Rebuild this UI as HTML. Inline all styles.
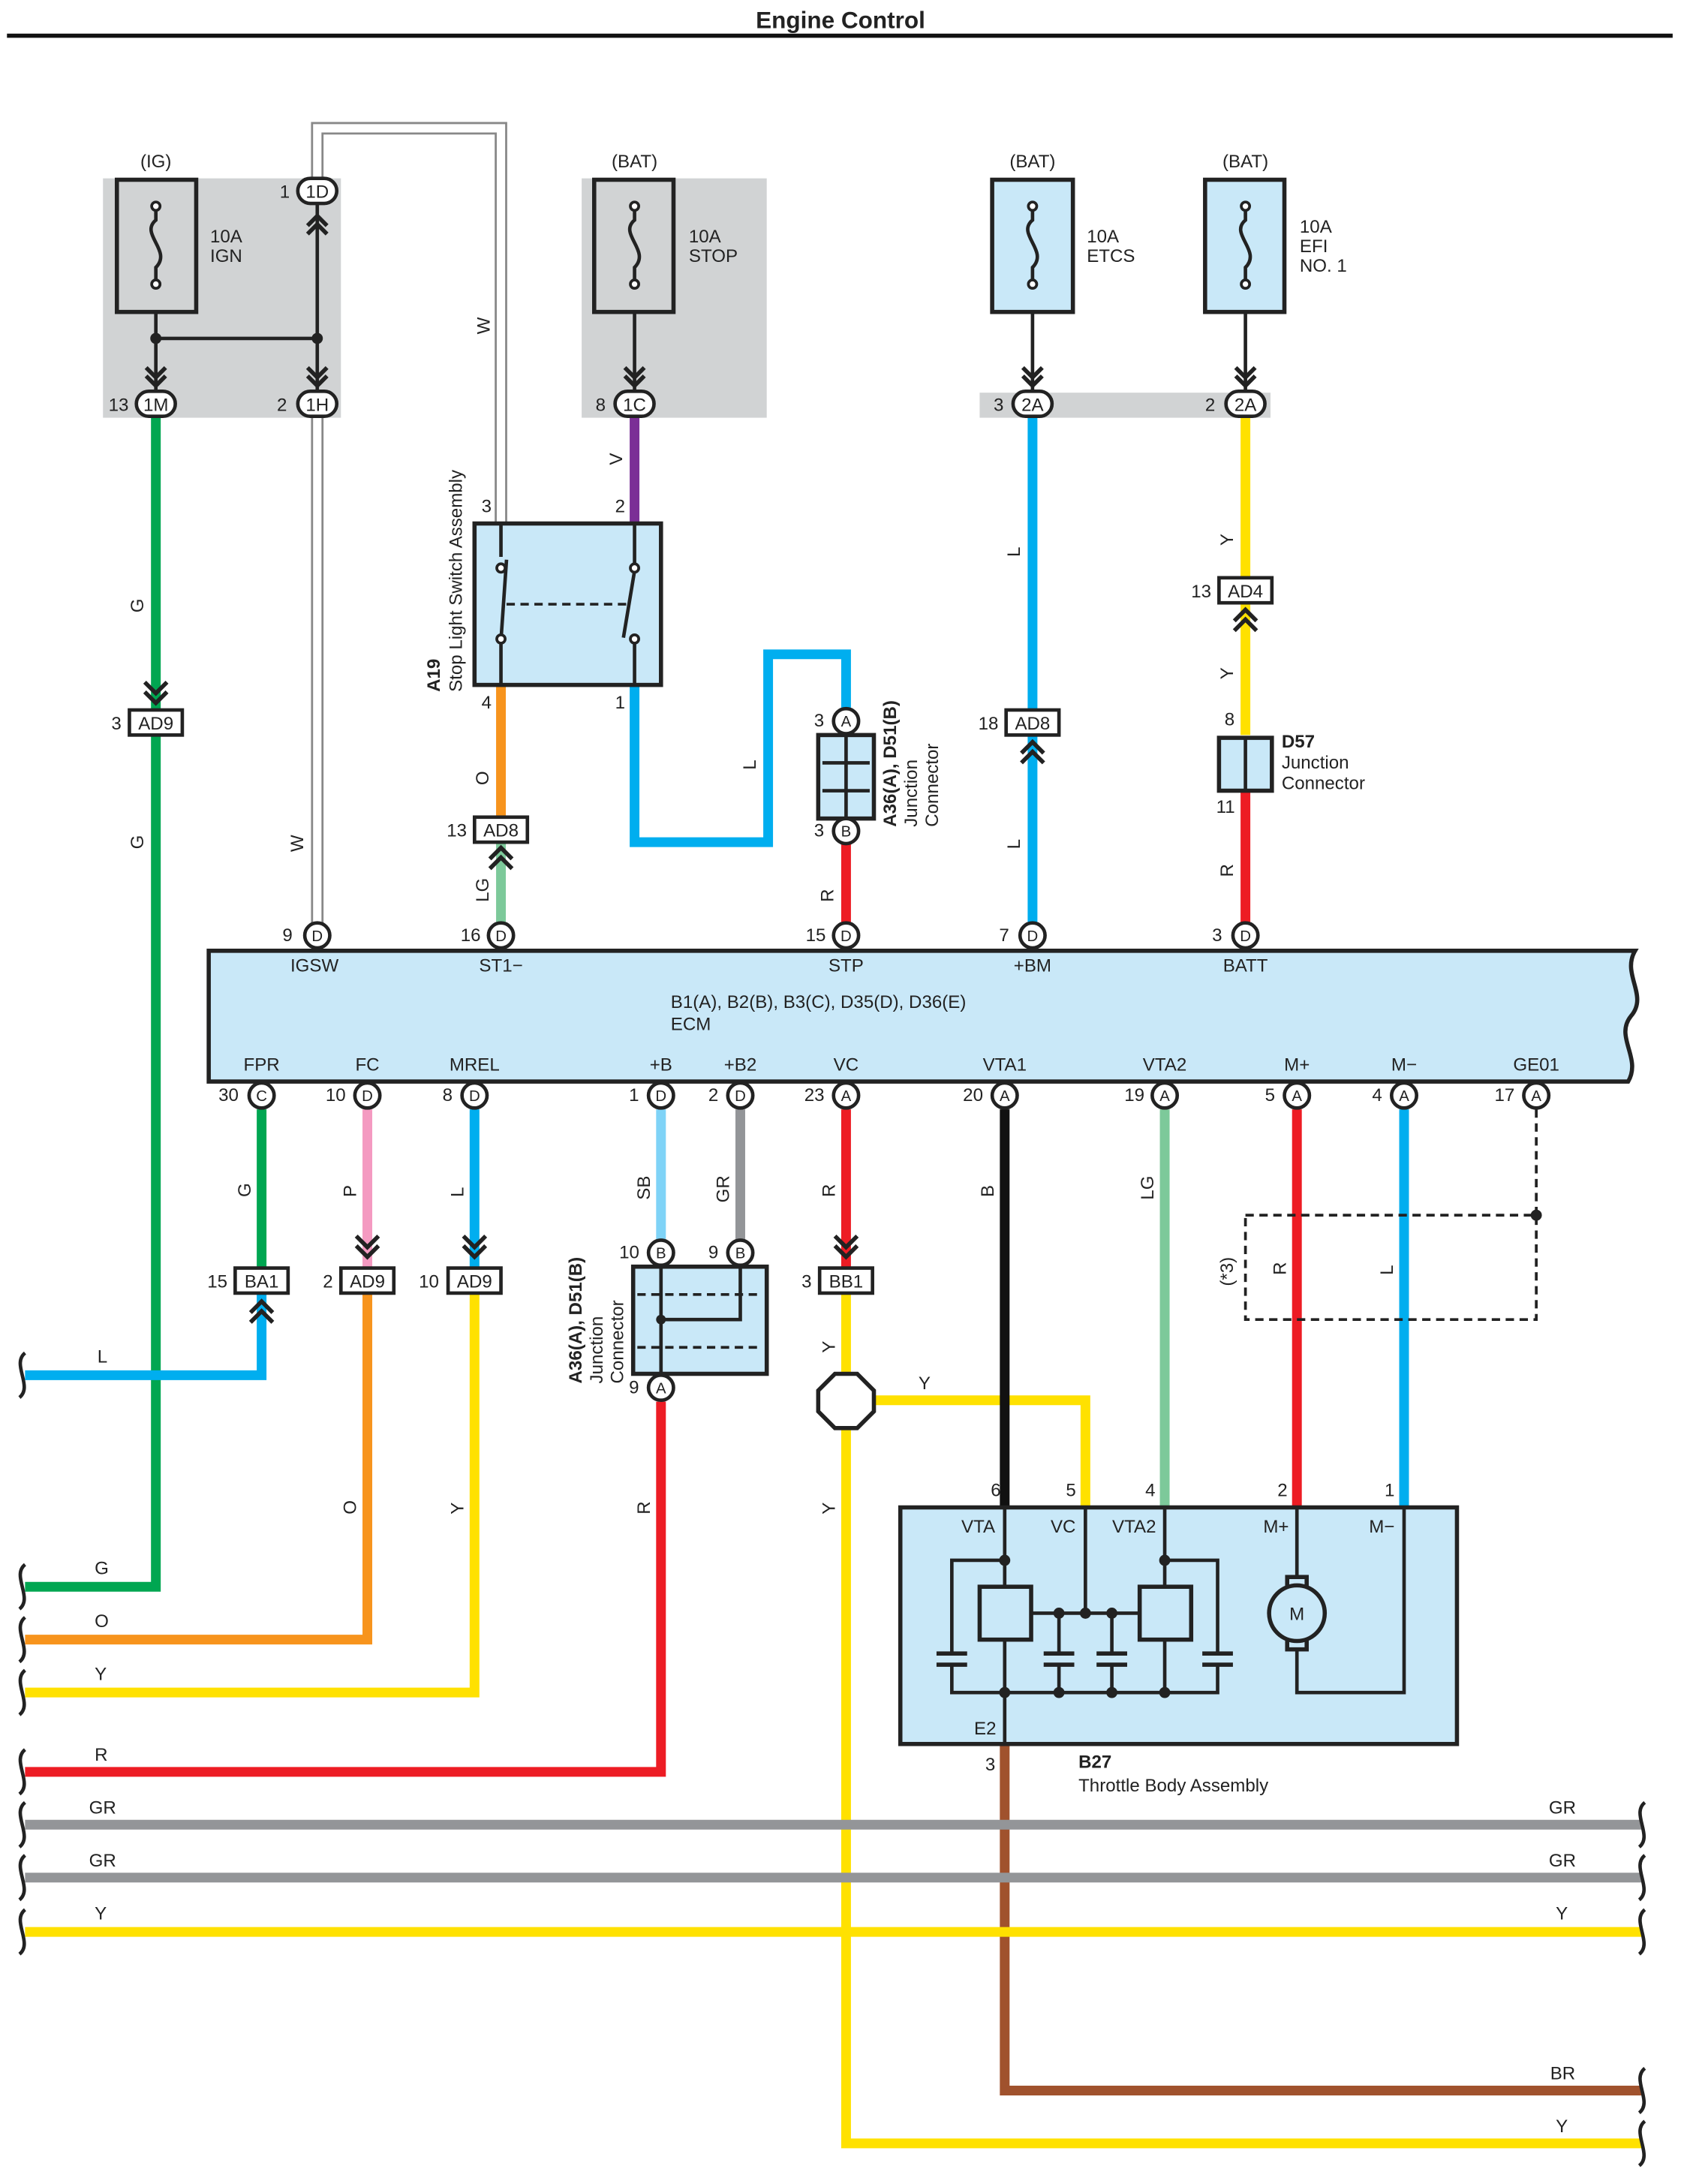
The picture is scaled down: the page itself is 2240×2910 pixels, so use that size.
<!DOCTYPE html>
<html><head><meta charset="utf-8"><style>
html,body{margin:0;padding:0;background:#fff}
svg{display:block}
text{font-family:"Liberation Sans",Arial,sans-serif;font-size:13px;fill:#222}
.w{fill:none;stroke-width:7}
.c{fill:#fff;stroke:#222;stroke-width:2.5}
.k{fill:none;stroke:#222;stroke-width:2.5}
.ch{fill:none;stroke:#222;stroke-width:3}
</style></head><body>
<svg width="2240" height="2910" viewBox="0 0 1208 1569" xmlns="http://www.w3.org/2000/svg">
<text x="604" y="20" text-anchor="middle" style="font-weight:bold;font-size:17px">Engine Control</text>
<rect x="5" y="24" width="1197" height="3" fill="#111"/>

<!-- gray boxes -->
<rect x="74" y="128" width="171" height="172" fill="#d1d3d4"/>
<rect x="418" y="128" width="133" height="172" fill="#d1d3d4"/>
<rect x="704" y="282" width="209" height="18" fill="#d1d3d4"/>

<text x="112" y="120" text-anchor="middle">(IG)</text>
<text x="456" y="120" text-anchor="middle">(BAT)</text>
<text x="742" y="120" text-anchor="middle">(BAT)</text>
<text x="895" y="120" text-anchor="middle">(BAT)</text>

<!-- fuses -->
<g stroke="#222" stroke-width="3">
<rect x="84" y="129" width="57" height="95" fill="#d1d3d4"/>
<rect x="427" y="129" width="57" height="95" fill="#d1d3d4"/>
<rect x="713" y="129" width="58" height="95" fill="#c9e8f8"/>
<rect x="866" y="129" width="57" height="95" fill="#c9e8f8"/>
</g>
<g class="k">
<path d="M112 150 V158 C100 168 124 180 112 192 V202"/>
<path d="M456 150 V158 C444 168 468 180 456 192 V202"/>
<path d="M742 150 V158 C730 168 754 180 742 192 V202"/>
<path d="M895 150 V158 C883 168 907 180 895 192 V202"/>
</g>
<g fill="#fff" stroke="#222" stroke-width="2">
<circle cx="112" cy="148" r="3"/><circle cx="112" cy="204" r="3"/>
<circle cx="456" cy="148" r="3"/><circle cx="456" cy="204" r="3"/>
<circle cx="742" cy="148" r="3"/><circle cx="742" cy="204" r="3"/>
<circle cx="895" cy="148" r="3"/><circle cx="895" cy="204" r="3"/>
</g>
<text x="151" y="174">10A</text><text x="151" y="188">IGN</text>
<text x="495" y="174">10A</text><text x="495" y="188">STOP</text>
<text x="781" y="174">10A</text><text x="781" y="188">ETCS</text>
<text x="934" y="167">10A</text><text x="934" y="181">EFI</text><text x="934" y="195">NO. 1</text>

<!-- IG internal -->
<path class="k" d="M112 224 V282 M112 243 H228 M228 146 V282 M456 224 V282 M742 224 V282 M895 224 V282"/>
<circle cx="112" cy="243" r="4" fill="#222"/><circle cx="228" cy="243" r="4" fill="#222"/>

<!-- white W wire -->
<path d="M228 128 V92 H360 V376 M228 300 V664" fill="none" stroke="#888" stroke-width="9"/>
<path d="M228 128 V92 H360 V376 M228 300 V664" fill="none" stroke="#fff" stroke-width="6"/>

<!-- colored wires top -->
<path class="w" stroke="#00a651" d="M112 300 V1140 H18"/>
<path class="w" stroke="#7b2f96" d="M456 300 V376"/>
<path class="w" stroke="#f7941d" d="M360 492 V588"/>
<path class="w" stroke="#7dc99a" d="M360 605 V664"/>
<path class="w" stroke="#00aeef" d="M456 492 V605 H552 V470 H608 V510"/>
<path class="w" stroke="#ed1c24" d="M608 605 V664"/>
<path class="w" stroke="#00aeef" d="M742 300 V664"/>
<path class="w" stroke="#ffe100" d="M895 300 V528"/>
<path class="w" stroke="#ed1c24" d="M895 568 V664"/>

<!-- pills -->
<g class="c">
<rect x="98" y="281" width="28" height="18" rx="9"/>
<rect x="214" y="281" width="28" height="18" rx="9"/>
<rect x="214" y="128" width="28" height="18" rx="9"/>
<rect x="442" y="281" width="28" height="18" rx="9"/>
<rect x="728" y="281" width="28" height="18" rx="9"/>
<rect x="881" y="281" width="28" height="18" rx="9"/>
</g>
<g text-anchor="middle">
<text x="112" y="295">1M</text><text x="228" y="295">1H</text><text x="228" y="142">1D</text>
<text x="456" y="295">1C</text><text x="742" y="295">2A</text><text x="895" y="295">2A</text>
</g>
<text x="78" y="295">13</text><text x="199" y="295">2</text><text x="201" y="142">1</text>
<text x="428" y="295">8</text><text x="714" y="295">3</text><text x="866" y="295">2</text>

<!-- chevrons top -->
<g class="ch">
<path d="M105 264 L112 271 L119 264 M105 270 L112 277 L119 270"/>
<path d="M221 264 L228 271 L235 264 M221 270 L228 277 L235 270"/>
<path d="M221 162 L228 155 L235 162 M221 168 L228 161 L235 168"/>
<path d="M449 264 L456 271 L463 264 M449 270 L456 277 L463 270"/>
<path d="M735 264 L742 271 L749 264 M735 270 L742 277 L749 270"/>
<path d="M888 264 L895 271 L902 264 M888 270 L895 277 L902 270"/>
<path d="M104 490 L112 498 L120 490 M104 497 L112 505 L120 497"/>
<path d="M352 617 L360 609 L368 617 M352 624 L360 616 L368 624"/>
<path d="M734 541 L742 533 L750 541 M734 548 L742 540 L750 548"/>
<path d="M887 446 L895 438 L903 446 M887 453 L895 445 L903 453"/>
</g>

<!-- box connectors -->
<g class="c" stroke-width="2">
<rect x="93" y="510" width="38" height="18"/>
<rect x="341" y="587" width="38" height="18"/>
<rect x="723" y="510" width="38" height="18"/>
<rect x="876" y="415" width="38" height="18"/>
</g>
<g text-anchor="middle">
<text x="112" y="524">AD9</text><text x="360" y="601">AD8</text><text x="742" y="524">AD8</text><text x="895" y="429">AD4</text>
</g>
<text x="80" y="524">3</text><text x="321" y="601">13</text><text x="703" y="524">18</text><text x="856" y="429">13</text>

<!-- stop light switch -->
<rect x="341" y="376" width="134" height="116" fill="#c9e8f8" stroke="#222" stroke-width="3"/>
<path class="k" d="M360 376 V400 M364 402 L360 460 M360 460 V492 M456 376 V408 M456 410 L448 458 M456 458 V492"/>
<circle cx="360" cy="408" r="3" fill="#fff" stroke="#222" stroke-width="2"/><circle cx="360" cy="459" r="3" fill="#fff" stroke="#222" stroke-width="2"/>
<circle cx="456" cy="408" r="3" fill="#fff" stroke="#222" stroke-width="2"/><circle cx="456" cy="459" r="3" fill="#fff" stroke="#222" stroke-width="2"/>
<path d="M364 434 H452" stroke="#222" stroke-width="2" stroke-dasharray="6,4"/>
<text x="346" y="368">3</text><text x="442" y="368">2</text><text x="346" y="509">4</text><text x="442" y="509">1</text>
<text transform="translate(316,497) rotate(-90)" style="font-weight:bold">A19</text>
<text transform="translate(332,497) rotate(-90)">Stop Light Switch Assembly</text>

<!-- A36 top junction -->
<rect x="588" y="528" width="40" height="60" fill="#c9e8f8" stroke="#222" stroke-width="3"/>
<path class="k" d="M608 528 V588 M591 548 H625 M591 568 H625"/>
<circle class="c" cx="608" cy="518" r="9"/><text x="608" y="522" text-anchor="middle" style="font-size:11px">A</text>
<circle class="c" cx="608" cy="597" r="9"/><text x="608" y="601" text-anchor="middle" style="font-size:11px">B</text>
<text x="585" y="522">3</text><text x="585" y="601">3</text>
<text transform="translate(644,594) rotate(-90)" style="font-weight:bold">A36(A), D51(B)</text>
<text transform="translate(659,594) rotate(-90)">Junction</text>
<text transform="translate(674,594) rotate(-90)">Connector</text>

<!-- D57 -->
<rect x="876" y="530" width="38" height="38" fill="#c9e8f8" stroke="#222" stroke-width="3"/>
<path class="k" d="M895 530 V568"/>
<text x="880" y="521">8</text><text x="874" y="584">11</text>
<text x="921" y="537" style="font-weight:bold">D57</text>
<text x="921" y="552">Junction</text><text x="921" y="567">Connector</text>

<!-- wire labels top -->
<g>
<text transform="translate(103,440) rotate(-90)">G</text>
<text transform="translate(103,610) rotate(-90)">G</text>
<text transform="translate(352,240) rotate(-90)">W</text>
<text transform="translate(218,612) rotate(-90)">W</text>
<text transform="translate(447,334) rotate(-90)">V</text>
<text transform="translate(351,564) rotate(-90)">O</text>
<text transform="translate(351,648) rotate(-90)">LG</text>
<text transform="translate(543,553) rotate(-90)">L</text>
<text transform="translate(599,648) rotate(-90)">R</text>
<text transform="translate(733,400) rotate(-90)">L</text>
<text transform="translate(733,610) rotate(-90)">L</text>
<text transform="translate(886,392) rotate(-90)">Y</text>
<text transform="translate(886,488) rotate(-90)">Y</text>
<text transform="translate(886,630) rotate(-90)">R</text>
</g>

<!-- ECM -->
<path d="M150 683 H1175 C1165 700 1185 715 1172 730 C1160 745 1180 760 1170 777 H150 Z" fill="#c9e8f8" stroke="#222" stroke-width="3"/>
<text x="226" y="698" text-anchor="middle">IGSW</text>
<text x="360" y="698" text-anchor="middle">ST1−</text>
<text x="608" y="698" text-anchor="middle">STP</text>
<text x="742" y="698" text-anchor="middle">+BM</text>
<text x="895" y="698" text-anchor="middle">BATT</text>
<text x="482" y="724">B1(A), B2(B), B3(C), D35(D), D36(E)</text>
<text x="482" y="740">ECM</text>
<g text-anchor="middle">
<text x="188" y="769">FPR</text><text x="264" y="769">FC</text><text x="341" y="769">MREL</text>
<text x="475" y="769">+B</text><text x="532" y="769">+B2</text><text x="608" y="769">VC</text>
<text x="722" y="769">VTA1</text><text x="837" y="769">VTA2</text><text x="932" y="769">M+</text>
<text x="1009" y="769">M−</text><text x="1104" y="769">GE01</text>
</g>

<!-- bottom wires -->
<path class="w" stroke="#00a651" d="M188 797 V910"/>
<path class="w" stroke="#00aeef" d="M188 930 V988 H18"/>
<path class="w" stroke="#f49ac1" d="M264 797 V910"/>
<path class="w" stroke="#f7941d" d="M264 930 V1178 H18"/>
<path class="w" stroke="#00aeef" d="M341 797 V910"/>
<path class="w" stroke="#ffe100" d="M341 930 V1216 H18"/>
<path class="w" stroke="#7fd3f7" d="M475 797 V900"/>
<path class="w" stroke="#939598" d="M532 797 V900"/>
<path class="w" stroke="#ed1c24" d="M475 1007 V1273 H18"/>
<path class="w" stroke="#ed1c24" d="M608 797 V910"/>
<path class="w" stroke="#ffe100" d="M608 930 V1540 H1180"/>
<path class="w" stroke="#ffe100" d="M628 1006 H780 V1083"/>
<path class="w" stroke="#111" d="M722 797 V1083"/>
<path class="w" stroke="#7dc99a" d="M837 797 V1083"/>
<path class="w" stroke="#ed1c24" d="M932 797 V1083"/>
<path class="w" stroke="#00aeef" d="M1009 797 V1083"/>
<path class="w" stroke="#a0522d" d="M722 1253 V1502 H1180"/>
<path class="w" stroke="#939598" d="M18 1311 H1180"/>
<path class="w" stroke="#939598" d="M18 1349 H1180"/>
<path class="w" stroke="#ffe100" d="M18 1388 H1180"/>

<!-- wavy ends -->
<g class="k" stroke-width="2">
<path d="M18 972 C8 980 24 996 14 1004"/>
<path d="M18 1124 C8 1132 24 1148 14 1156"/>
<path d="M18 1162 C8 1170 24 1186 14 1194"/>
<path d="M18 1200 C8 1208 24 1224 14 1232"/>
<path d="M18 1257 C8 1265 24 1281 14 1289"/>
<path d="M18 1295 C8 1303 24 1319 14 1327"/>
<path d="M18 1333 C8 1341 24 1357 14 1365"/>
<path d="M18 1372 C8 1380 24 1396 14 1404"/>
<path d="M1182 1295 C1172 1303 1188 1319 1178 1327"/>
<path d="M1182 1333 C1172 1341 1188 1357 1178 1365"/>
<path d="M1182 1372 C1172 1380 1188 1396 1178 1404"/>
<path d="M1182 1486 C1172 1494 1188 1510 1178 1518"/>
<path d="M1182 1524 C1172 1532 1188 1548 1178 1556"/>
</g>

<!-- wire labels bottom/left -->
<text x="70" y="979">L</text><text x="68" y="1131">G</text><text x="68" y="1169">O</text><text x="68" y="1207">Y</text>
<text x="68" y="1265">R</text><text x="64" y="1303">GR</text><text x="64" y="1341">GR</text><text x="68" y="1379">Y</text>
<text x="1113" y="1303">GR</text><text x="1113" y="1341">GR</text><text x="1118" y="1379">Y</text>
<text x="1114" y="1494">BR</text><text x="1118" y="1532">Y</text>
<text x="660" y="998">Y</text>
<g>
<text transform="translate(180,860) rotate(-90)">G</text>
<text transform="translate(256,860) rotate(-90)">P</text>
<text transform="translate(333,860) rotate(-90)">L</text>
<text transform="translate(467,862) rotate(-90)">SB</text>
<text transform="translate(524,864) rotate(-90)">GR</text>
<text transform="translate(600,860) rotate(-90)">R</text>
<text transform="translate(714,860) rotate(-90)">B</text>
<text transform="translate(829,862) rotate(-90)">LG</text>
<text transform="translate(924,916) rotate(-90)">R</text>
<text transform="translate(1001,916) rotate(-90)">L</text>
<text transform="translate(886,924) rotate(-90)">(*3)</text>
<text transform="translate(256,1088) rotate(-90)">O</text>
<text transform="translate(333,1088) rotate(-90)">Y</text>
<text transform="translate(467,1088) rotate(-90)">R</text>
<text transform="translate(600,972) rotate(-90)">Y</text>
<text transform="translate(600,1088) rotate(-90)">Y</text>
</g>

<!-- bottom pins -->
<g class="c">
<circle cx="188" cy="787" r="9"/><circle cx="264" cy="787" r="9"/><circle cx="341" cy="787" r="9"/>
<circle cx="475" cy="787" r="9"/><circle cx="532" cy="787" r="9"/><circle cx="608" cy="787" r="9"/>
<circle cx="722" cy="787" r="9"/><circle cx="837" cy="787" r="9"/><circle cx="932" cy="787" r="9"/>
<circle cx="1009" cy="787" r="9"/><circle cx="1104" cy="787" r="9"/>
<circle cx="228" cy="672" r="9"/><circle cx="360" cy="672" r="9"/><circle cx="608" cy="672" r="9"/>
<circle cx="742" cy="672" r="9"/><circle cx="895" cy="672" r="9"/>
<circle cx="475" cy="900" r="9"/><circle cx="532" cy="900" r="9"/><circle cx="475" cy="997" r="9"/>
</g>
<g text-anchor="middle" style="font-size:11px">
<text x="188" y="791" style="font-size:11px">C</text><text x="264" y="791" style="font-size:11px">D</text><text x="341" y="791" style="font-size:11px">D</text>
<text x="475" y="791" style="font-size:11px">D</text><text x="532" y="791" style="font-size:11px">D</text><text x="608" y="791" style="font-size:11px">A</text>
<text x="722" y="791" style="font-size:11px">A</text><text x="837" y="791" style="font-size:11px">A</text><text x="932" y="791" style="font-size:11px">A</text>
<text x="1009" y="791" style="font-size:11px">A</text><text x="1104" y="791" style="font-size:11px">A</text>
<text x="228" y="676" style="font-size:11px">D</text><text x="360" y="676" style="font-size:11px">D</text><text x="608" y="676" style="font-size:11px">D</text>
<text x="742" y="676" style="font-size:11px">D</text><text x="895" y="676" style="font-size:11px">D</text>
<text x="475" y="904" style="font-size:11px">B</text><text x="532" y="904" style="font-size:11px">B</text><text x="475" y="1001" style="font-size:11px">A</text>
</g>
<text x="203" y="676">9</text><text x="331" y="676">16</text><text x="579" y="676">15</text><text x="718" y="676">7</text><text x="871" y="676">3</text>
<text x="157" y="791">30</text><text x="234" y="791">10</text><text x="318" y="791">8</text><text x="452" y="791">1</text>
<text x="509" y="791">2</text><text x="578" y="791">23</text><text x="692" y="791">20</text><text x="808" y="791">19</text>
<text x="909" y="791">5</text><text x="986" y="791">4</text><text x="1074" y="791">17</text>
<text x="445" y="904">10</text><text x="509" y="904">9</text><text x="452" y="1001">9</text>

<!-- bottom connectors -->
<g class="ch">
<path d="M256 888 L264 896 L272 888 M256 895 L264 903 L272 895"/>
<path d="M333 888 L341 896 L349 888 M333 895 L341 903 L349 895"/>
<path d="M600 888 L608 896 L616 888 M600 895 L608 903 L616 895"/>
<path d="M180 943 L188 935 L196 943 M180 950 L188 942 L196 950"/>
</g>
<g class="c" stroke-width="2">
<rect x="169" y="911" width="38" height="18"/>
<rect x="245" y="911" width="38" height="18"/>
<rect x="322" y="911" width="38" height="18"/>
<rect x="589" y="911" width="38" height="18"/>
</g>
<g text-anchor="middle">
<text x="188" y="925">BA1</text><text x="264" y="925">AD9</text><text x="341" y="925">AD9</text><text x="608" y="925">BB1</text>
</g>
<text x="149" y="925">15</text><text x="232" y="925">2</text><text x="301" y="925">10</text><text x="576" y="925">3</text>

<!-- A36 bottom junction -->
<rect x="455" y="910" width="96" height="77" fill="#c9e8f8" stroke="#222" stroke-width="3"/>
<path class="k" d="M475 910 V987 M532 910 V948 H475"/>
<path d="M458 930 H548 M458 968 H548" stroke="#222" stroke-width="2" stroke-dasharray="6,4"/>
<circle cx="475" cy="948" r="3.5" fill="#222"/>
<text transform="translate(418,994) rotate(-90)" style="font-weight:bold">A36(A), D51(B)</text>
<text transform="translate(433,994) rotate(-90)">Junction</text>
<text transform="translate(448,994) rotate(-90)">Connector</text>

<!-- octagon -->
<polygon points="600,987 616,987 628,999 628,1014 616,1026 600,1026 588,1014 588,999" fill="#fff" stroke="#222" stroke-width="3"/>

<!-- dashed shield -->
<path d="M1104 797 V873 M895 873 H1104 V948 H895 Z" fill="none" stroke="#222" stroke-width="2" stroke-dasharray="6,4"/>
<circle cx="1104" cy="873" r="4" fill="#222"/>

<!-- throttle body -->
<rect x="647" y="1083" width="400" height="170" fill="#c9e8f8" stroke="#222" stroke-width="3"/>
<text x="712" y="1075">6</text><text x="766" y="1075">5</text><text x="823" y="1075">4</text><text x="918" y="1075">2</text><text x="995" y="1075">1</text>
<text x="703" y="1101" text-anchor="middle">VTA</text><text x="764" y="1101" text-anchor="middle">VC</text>
<text x="815" y="1101" text-anchor="middle">VTA2</text><text x="917" y="1101" text-anchor="middle">M+</text><text x="993" y="1101" text-anchor="middle">M−</text>
<text x="700" y="1246">E2</text><text x="708" y="1272">3</text>
<text x="775" y="1270" style="font-weight:bold">B27</text><text x="775" y="1287">Throttle Body Assembly</text>
<g class="k" stroke-width="2">
<path d="M722 1083 V1140 M722 1178 V1253 M780 1083 V1159 M837 1083 V1140 M837 1178 V1216"/>
<path d="M684 1188 V1121 H722 M837 1121 H875 V1188 M684 1196 V1216 H875 V1196"/>
<path d="M741 1159 H819 M761 1159 V1188 M799 1159 V1188 M761 1196 V1216 M799 1196 V1216"/>
<path d="M932 1083 V1133 M932 1185 V1216 H1009 V1083"/>
</g>
<g stroke="#222" stroke-width="3" fill="none">
<rect x="704" y="1140" width="37" height="38"/><rect x="819" y="1140" width="37" height="38"/>
<path d="M673 1188 H695 M673 1196 H695 M750 1188 H772 M750 1196 H772 M788 1188 H810 M788 1196 H810 M864 1188 H886 M864 1196 H886"/>
<rect x="925" y="1133" width="14" height="8"/><rect x="925" y="1177" width="14" height="8"/>
<circle cx="932" cy="1159" r="20" fill="#c9e8f8"/>
</g>
<text x="932" y="1164" text-anchor="middle">M</text>
<g fill="#222">
<circle cx="722" cy="1121" r="4"/><circle cx="837" cy="1121" r="4"/><circle cx="761" cy="1159" r="4"/><circle cx="780" cy="1159" r="4"/><circle cx="799" cy="1159" r="4"/>
<circle cx="722" cy="1216" r="4"/><circle cx="761" cy="1216" r="4"/><circle cx="799" cy="1216" r="4"/><circle cx="837" cy="1216" r="4"/>
</g>
</svg>
</body></html>
